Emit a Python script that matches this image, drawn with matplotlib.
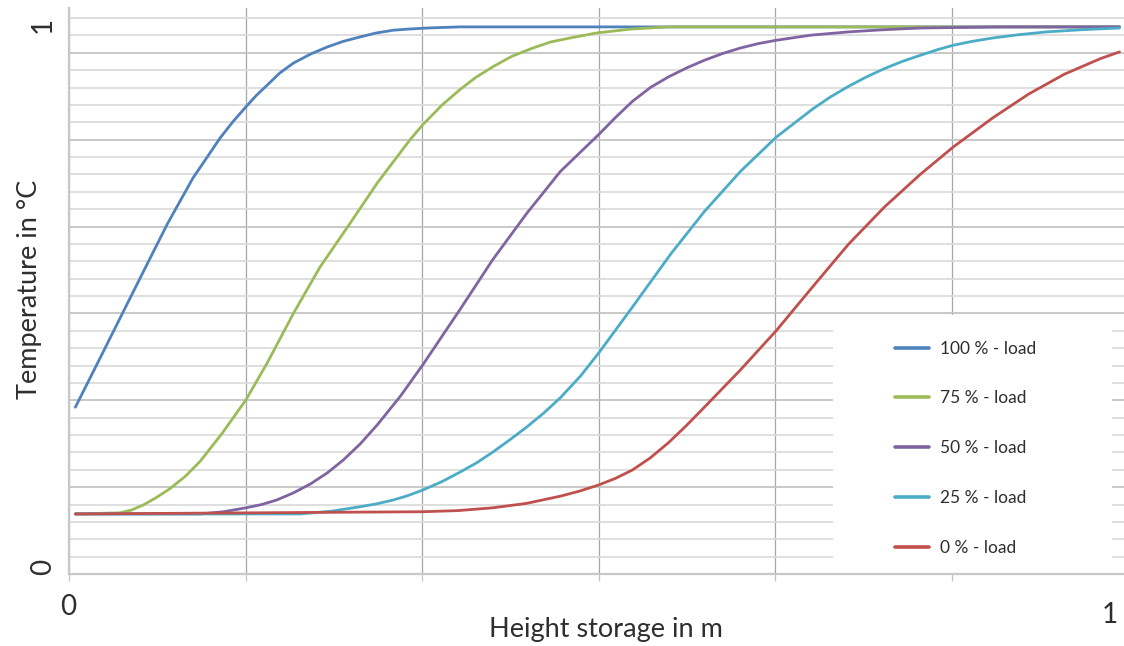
import matplotlib.pyplot as plt
from matplotlib.patches import Rectangle
from matplotlib.ticker import MultipleLocator, NullFormatter

# Normalised temperature profiles over the storage height for five load states
x_100 = [0.006, 0.029, 0.055, 0.070, 0.093, 0.117, 0.143, 0.155, 0.167, 0.177,
         0.187, 0.199, 0.212, 0.228, 0.244, 0.259, 0.275, 0.290, 0.306, 0.320,
         0.338, 0.369, 0.400, 0.483, 0.992]
y_100 = [0.300, 0.387, 0.486, 0.543, 0.630, 0.712, 0.785, 0.814, 0.840, 0.861,
         0.879, 0.901, 0.919, 0.935, 0.948, 0.958, 0.966, 0.973, 0.978, 0.980,
         0.982, 0.984, 0.984, 0.984, 0.984]

x_75 = [0.006, 0.048, 0.059, 0.070, 0.082, 0.095, 0.110, 0.124, 0.145, 0.167,
        0.187, 0.212, 0.237, 0.263, 0.291, 0.322, 0.334, 0.352, 0.369, 0.384,
        0.400, 0.418, 0.438, 0.455, 0.473, 0.498, 0.530, 0.566, 0.992]
y_75 = [0.108, 0.110, 0.115, 0.124, 0.137, 0.153, 0.176, 0.203, 0.254, 0.313,
        0.379, 0.469, 0.552, 0.624, 0.703, 0.781, 0.808, 0.843, 0.871, 0.893,
        0.912, 0.931, 0.946, 0.957, 0.964, 0.973, 0.980, 0.984, 0.984]

x_50 = [0.006, 0.124, 0.146, 0.167, 0.182, 0.196, 0.212, 0.228, 0.244, 0.259,
        0.275, 0.291, 0.313, 0.334, 0.369, 0.400, 0.432, 0.464, 0.500, 0.516,
        0.532, 0.549, 0.566, 0.583, 0.600, 0.617, 0.634, 0.651, 0.668, 0.700,
        0.736, 0.770, 0.804, 0.840, 0.879, 0.992]
y_50 = [0.108, 0.108, 0.112, 0.119, 0.125, 0.133, 0.146, 0.162, 0.182, 0.205,
        0.234, 0.268, 0.320, 0.376, 0.475, 0.565, 0.648, 0.724, 0.790, 0.821,
        0.850, 0.875, 0.894, 0.910, 0.924, 0.936, 0.946, 0.954, 0.960, 0.969,
        0.975, 0.979, 0.982, 0.983, 0.984, 0.984]

x_25 = [0.006, 0.218, 0.248, 0.275, 0.290, 0.306, 0.320, 0.334, 0.352, 0.369,
        0.385, 0.400, 0.416, 0.432, 0.448, 0.464, 0.483, 0.500, 0.532, 0.568,
        0.600, 0.634, 0.668, 0.702, 0.719, 0.736, 0.753, 0.770, 0.787, 0.804,
        0.820, 0.835, 0.853, 0.872, 0.897, 0.923, 0.957, 0.992]
y_25 = [0.108, 0.108, 0.113, 0.121, 0.126, 0.133, 0.141, 0.151, 0.166, 0.183,
        0.200, 0.219, 0.241, 0.264, 0.289, 0.317, 0.356, 0.397, 0.480, 0.575,
        0.652, 0.724, 0.786, 0.836, 0.858, 0.877, 0.894, 0.909, 0.922, 0.933,
        0.943, 0.951, 0.958, 0.964, 0.970, 0.975, 0.979, 0.982]

x_0 = [0.006, 0.334, 0.367, 0.400, 0.432, 0.464, 0.482, 0.500, 0.516, 0.532,
       0.549, 0.566, 0.583, 0.600, 0.634, 0.668, 0.702, 0.736, 0.770, 0.804,
       0.835, 0.872, 0.906, 0.940, 0.974, 0.992]
y_0 = [0.108, 0.112, 0.114, 0.119, 0.127, 0.140, 0.149, 0.160, 0.172, 0.187,
       0.209, 0.236, 0.267, 0.300, 0.367, 0.438, 0.516, 0.593, 0.660, 0.719,
       0.768, 0.820, 0.863, 0.899, 0.927, 0.939]

labels = ['100 % - load', '75 % - load', '50 % - load', '25 % - load', '0 % - load']
colors = ['#4F81BD', '#9BBB59', '#8064A2', '#4BACC6', '#C0504D']

plt.rcParams['font.family'] = ['Lato', 'DejaVu Sans']
text_color = '#2e2e2e'

fig = plt.figure(figsize=(11.24, 6.46), dpi=100)
ax = fig.add_axes([69 / 1124, 72 / 646, 1055 / 1124, 566 / 646])

series = [(x_100, y_100), (x_75, y_75), (x_50, y_50), (x_25, y_25), (x_0, y_0)]
for (xs, ys), lab, col in zip(series, labels, colors):
    ax.plot(xs, ys, color=col, lw=2.0, label=lab, solid_joinstyle='round',
            solid_capstyle='round', zorder=3)

ax.set_xlim(0, 1055 / 1059)
ax.set_ylim(0, 566 / 556)

# gridlines: vertical every sixth, horizontal light every 1/32, darker every 5/32
ax.xaxis.set_major_locator(MultipleLocator(1 / 6))
ax.yaxis.set_major_locator(MultipleLocator(5 / 32))
ax.yaxis.set_minor_locator(MultipleLocator(1 / 32))
ax.xaxis.set_major_formatter(NullFormatter())
ax.yaxis.set_major_formatter(NullFormatter())
ax.set_axisbelow(True)
ax.grid(axis='x', which='major', color='#a6a6a6', lw=0.9)
ax.grid(axis='y', which='minor', color='#dcdcdc', lw=1.3)
ax.grid(axis='y', which='major', color='#c4c4c4', lw=1.3)
ax.tick_params(axis='x', which='major', length=5, width=0.9, color='#c4c4c4', direction='out')
ax.tick_params(axis='y', which='both', length=0)

for side in ['top', 'right']:
    ax.spines[side].set_visible(False)
for side in ['left', 'bottom']:
    ax.spines[side].set_color('#c8c8c8')
    ax.spines[side].set_linewidth(1.6)

# white area behind the legend
ax.add_patch(Rectangle((764 / 1055, 0), 279 / 1055, 259 / 566, transform=ax.transAxes,
                       facecolor='white', edgecolor='none', zorder=1))
leg = ax.legend(loc='center left', bbox_to_anchor=(817 / 1055, 0.222), frameon=False,
                fontsize=12.5, handlelength=1.95, handletextpad=0.65, labelspacing=1.95,
                borderpad=0)
for t in leg.get_texts():
    t.set_color(text_color)
for h in leg.get_lines():
    h.set_linewidth(2.6)

# axis end labels and titles
fig.text(68 / 1124, 1 - 607 / 646, '0', fontsize=20, color=text_color, ha='center', va='center')
fig.text(1110 / 1124, 1 - 615 / 646, '1', fontsize=20, color=text_color, ha='center', va='center')
fig.text(43 / 1124, 1 - 567 / 646, '0', fontsize=20, color=text_color, ha='center', va='center', rotation=90)
fig.text(43 / 1124, 1 - 25 / 646, '1', fontsize=20, color=text_color, ha='center', va='center', rotation=90)
fig.text(606 / 1124, 1 - 630 / 646, 'Height storage in m', fontsize=19.5, color=text_color,
         ha='center', va='center')
fig.text(30 / 1124, 1 - 289 / 646, 'Temperature in °C', fontsize=19.5, color=text_color,
         ha='center', va='center', rotation=90)

fig.savefig('out.png', dpi=100)
